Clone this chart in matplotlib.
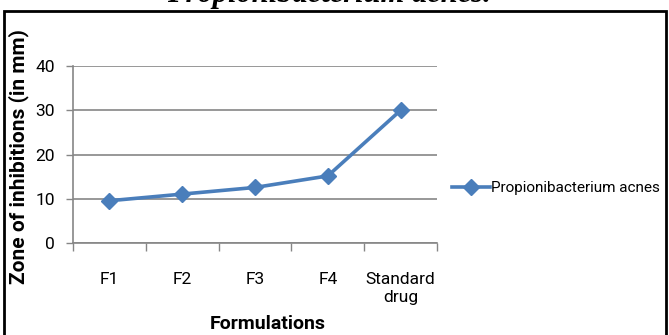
import matplotlib
matplotlib.use("Agg")
import matplotlib.pyplot as plt
from matplotlib.patches import Rectangle

categories = ["F1", "F2", "F3", "F4", "Standard\ndrug"]
zone_mm = [9.6, 11.1, 12.6, 15.2, 30.0]
series_name = "Propionibacterium acnes"
y_ticks = [0, 10, 20, 30, 40]

blue = "#4A7EBB"
grid_gray = "#868686"
sans = "Roboto"

fig = plt.figure(figsize=(6.69, 3.35), dpi=100)
ax = fig.add_axes([73 / 669, 1 - 243.3 / 335, 364 / 669, (243.3 - 66) / 335])

x = list(range(len(categories)))
ax.plot(x, zone_mm, color=blue, lw=2.6, marker="D", ms=8, label=series_name)

ax.set_xlim(-0.5, len(categories) - 0.5)
ax.set_ylim(0, 40)
ax.set_yticks(y_ticks)
ax.set_yticklabels([str(v) for v in y_ticks], family=sans, fontsize=12.5)
ax.set_xticks(x)
ax.set_xticklabels(categories, family=sans, fontsize=12.5, va="top", linespacing=1.2)
ax.set_xticks([i - 0.5 for i in range(len(categories) + 1)], minor=True)
ax.tick_params(axis="x", which="major", length=0, pad=21)
ax.tick_params(axis="x", which="minor", length=6, color=grid_gray, width=1)
ax.tick_params(axis="y", length=5, color=grid_gray, width=1, pad=8)

ax.grid(axis="y", color=grid_gray, lw=1.2)
ax.set_axisbelow(True)
for s in ["top", "right"]:
    ax.spines[s].set_visible(False)
for s in ["left", "bottom"]:
    ax.spines[s].set_color(grid_gray)
    ax.spines[s].set_linewidth(1.2)

ax.set_xlabel("Formulations", family=sans, fontsize=14, fontweight="bold")
ax.xaxis.set_label_coords(0.535, -0.405)
ax.set_ylabel("Zone of inhibitions (in mm)", family=sans, fontsize=15, fontweight="bold")
ax.yaxis.set_label_coords(-0.121, 0.492)

ax.legend(loc="center left", bbox_to_anchor=(438 / 669, 1 - 188 / 335),
          bbox_transform=fig.transFigure, frameon=False, handlelength=2.5,
          handletextpad=0.1, prop={"family": sans, "size": 11})

# title sits mostly above the cropped picture
fig.text(0.492, 1 - 2 / 335, "Propionibacterium acnes.", ha="center", va="baseline",
         family="Liberation Serif", fontstyle="italic", fontweight="bold", fontsize=22)

fig.patches.append(Rectangle((4 / 669, -0.02), 662 / 669, 1.02 - 11 / 335,
                             transform=fig.transFigure, fill=False, ec="black", lw=2))

fig.savefig("out.png", dpi=100)
